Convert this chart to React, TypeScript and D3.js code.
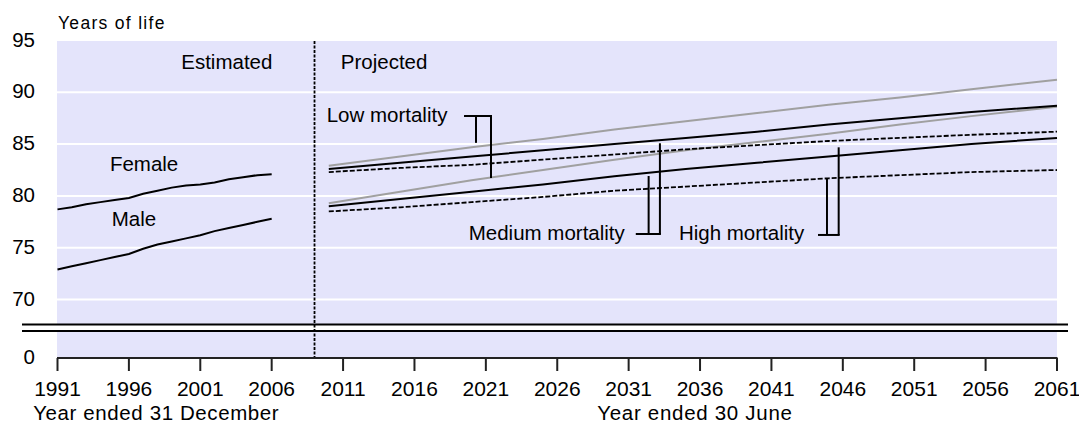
import React from 'react';
import * as d3 from 'd3';

// ---- Data ----
const estYears = [1991, 1992, 1993, 1994, 1995, 1996, 1997, 1998, 1999, 2000, 2001, 2002, 2003, 2004, 2005, 2006];
const femaleEst = [78.7, 78.9, 79.2, 79.4, 79.6, 79.8, 80.2, 80.5, 80.8, 81.0, 81.1, 81.3, 81.6, 81.8, 82.0, 82.1];
const maleEst = [72.9, 73.2, 73.5, 73.8, 74.1, 74.4, 74.9, 75.3, 75.6, 75.9, 76.2, 76.6, 76.9, 77.2, 77.5, 77.8];

const projYears = [2010, 2015, 2020, 2025, 2030, 2035, 2040, 2045, 2050, 2055, 2061];
const femaleLow = [82.9, 83.8, 84.7, 85.5, 86.4, 87.2, 88.0, 88.8, 89.5, 90.3, 91.2];
const femaleMedium = [82.6, 83.2, 83.8, 84.4, 85.0, 85.6, 86.2, 86.9, 87.5, 88.1, 88.7];
const femaleHigh = [82.3, 82.7, 83.0, 83.5, 84.0, 84.5, 84.9, 85.3, 85.6, 85.9, 86.2];
const maleLow = [79.3, 80.4, 81.5, 82.5, 83.5, 84.4, 85.2, 86.0, 86.9, 87.7, 88.6];
const maleMedium = [79.0, 79.7, 80.4, 81.1, 81.9, 82.6, 83.2, 83.8, 84.4, 85.0, 85.6];
const maleHigh = [78.5, 78.9, 79.4, 79.9, 80.5, 80.9, 81.3, 81.7, 82.0, 82.3, 82.5];

const yTicks = [95, 90, 85, 80, 75, 70];
const gridValues = [90, 85, 80, 75, 70];
const xTicks = [1991, 1996, 2001, 2006, 2011, 2016, 2021, 2026, 2031, 2036, 2041, 2046, 2051, 2056, 2061];
const boundaryYear = 2009;

const callouts = [
  { label: 'Low mortality', labelYear: 2009.85, labelValue: 87.16, barValue: 87.71, barFrom: 2019.47, arms: [[2020.31, 85.12], [2021.36, 81.73]] },
  { label: 'Medium mortality', labelYear: 2019.8, labelValue: 75.74, barValue: 76.32, barFrom: 2031.5, arms: [[2032.4, 81.92], [2033.19, 85.08]] },
  { label: 'High mortality', labelYear: 2034.52, labelValue: 75.74, barValue: 76.23, barFrom: 2044.26, arms: [[2044.89, 81.7], [2045.71, 84.69]] },
];

const textLabels = [
  { text: 'Estimated', year: 2006.05, value: 92.25, anchor: 'end' },
  { text: 'Projected', year: 2010.84, value: 92.25, anchor: 'start' },
  { text: 'Female', year: 1994.67, value: 82.45, anchor: 'start' },
  { text: 'Male', year: 1994.8, value: 77.05, anchor: 'start' },
];

// ---- Layout ----
const W = 1079;
const H = 423;
const left = 57.5;
const right = 1057;
const axisY = 358;
const break1 = 324.5;
const break2 = 331;

const FONT = '"Liberation Sans", Arial, sans-serif';
const FS = 20.5;

export default function App() {
  const x = d3.scaleLinear().domain([1991, 2061]).range([left, right]);
  const y = d3.scaleLinear().domain([70, 95]).range([299.5, 40.5]);

  const line = d3
    .line<[number, number]>()
    .x((d) => x(d[0]))
    .y((d) => y(d[1]));

  const zip = (xs: number[], ys: number[]) => xs.map((v, i) => [v, ys[i]] as [number, number]);

  const series = [
    { data: zip(estYears, femaleEst), stroke: '#000', dash: undefined, w: 2 },
    { data: zip(estYears, maleEst), stroke: '#000', dash: undefined, w: 2 },
    { data: zip(projYears, femaleLow), stroke: '#a0a0a0', dash: undefined, w: 2 },
    { data: zip(projYears, maleLow), stroke: '#a0a0a0', dash: undefined, w: 2 },
    { data: zip(projYears, femaleHigh), stroke: '#000', dash: '5,2', w: 1.8 },
    { data: zip(projYears, maleHigh), stroke: '#000', dash: '5,2', w: 1.8 },
    { data: zip(projYears, femaleMedium), stroke: '#000', dash: undefined, w: 2 },
    { data: zip(projYears, maleMedium), stroke: '#000', dash: undefined, w: 2 },
  ];

  const bgTop = y(95) + 0.5;

  return (
    <svg
      width={W}
      height={H}
      style={{ position: 'absolute', left: 0, top: 0, background: '#fff' }}
      fontFamily={FONT}
    >
      {/* plot background */}
      <rect x={left - 0.5} y={bgTop} width={right - left + 0.5} height={axisY - bgTop} fill="#e4e4fb" />

      {/* gridlines */}
      {gridValues.map((v) => (
        <line key={v} x1={left - 0.5} x2={right} y1={y(v)} y2={y(v)} stroke="#fff" strokeWidth={2} />
      ))}

      {/* axis break */}
      <rect x={22} y={break1} width={1068 - 22} height={break2 - break1} fill="#fff" />
      <line x1={22} x2={1068} y1={break1} y2={break1} stroke="#000" strokeWidth={1.8} />
      <line x1={22} x2={1068} y1={break2} y2={break2} stroke="#000" strokeWidth={1.8} />

      {/* boundary dotted line */}
      <line
        x1={x(boundaryYear)}
        x2={x(boundaryYear)}
        y1={bgTop}
        y2={axisY}
        stroke="#000"
        strokeWidth={1.8}
        strokeDasharray="3,1.5"
      />

      {/* series */}
      {series.map((s, i) => (
        <path
          key={i}
          d={line(s.data) || ''}
          fill="none"
          stroke={s.stroke}
          strokeWidth={s.w}
          strokeDasharray={s.dash}
        />
      ))}

      {/* callouts */}
      {callouts.map((c) => {
        const barTo = Math.max(...c.arms.map((a) => a[0]));
        return (
          <g key={c.label}>
            <text x={x(c.labelYear)} y={y(c.labelValue)} fontSize={FS} fill="#000">
              {c.label}
            </text>
            <line x1={x(c.barFrom)} x2={x(barTo) + 1} y1={y(c.barValue)} y2={y(c.barValue)} stroke="#000" strokeWidth={2} />
            {c.arms.map((a, j) => (
              <line key={j} x1={x(a[0])} x2={x(a[0])} y1={y(c.barValue)} y2={y(a[1])} stroke="#000" strokeWidth={2} />
            ))}
          </g>
        );
      })}

      {/* text labels */}
      {textLabels.map((t) => (
        <text
          key={t.text}
          x={x(t.year)}
          y={y(t.value)}
          fontSize={FS}
          fill="#000"
          textAnchor={t.anchor as any}
        >
          {t.text}
        </text>
      ))}

      {/* x axis */}
      <line x1={left - 0.5} x2={right + 0.5} y1={axisY} y2={axisY} stroke="#222" strokeWidth={2} />
      {xTicks.map((t) => (
        <g key={t}>
          <line x1={x(t)} x2={x(t)} y1={axisY} y2={axisY + 13} stroke="#222" strokeWidth={2} />
          <text x={x(t)} y={396} fontSize={21} textAnchor="middle" fill="#000">
            {t}
          </text>
        </g>
      ))}

      {/* y axis labels */}
      {yTicks.map((t) => (
        <text key={t} x={35} y={y(t) + 6} fontSize={FS} textAnchor="end" fill="#000">
          {t}
        </text>
      ))}
      <text x={35} y={axisY + 6} fontSize={FS} textAnchor="end" fill="#000">
        0
      </text>

      {/* titles */}
      <text x={58} y={29} fontSize={17.5} letterSpacing={1.3} fill="#000">
        Years of life
      </text>
      <text x={x(1989.3)} y={420} fontSize={FS} letterSpacing={0.6} fill="#000">
        Year ended 31 December
      </text>
      <text x={x(2028.8)} y={420} fontSize={FS} letterSpacing={0.7} fill="#000">
        Year ended 30 June
      </text>
    </svg>
  );
}
